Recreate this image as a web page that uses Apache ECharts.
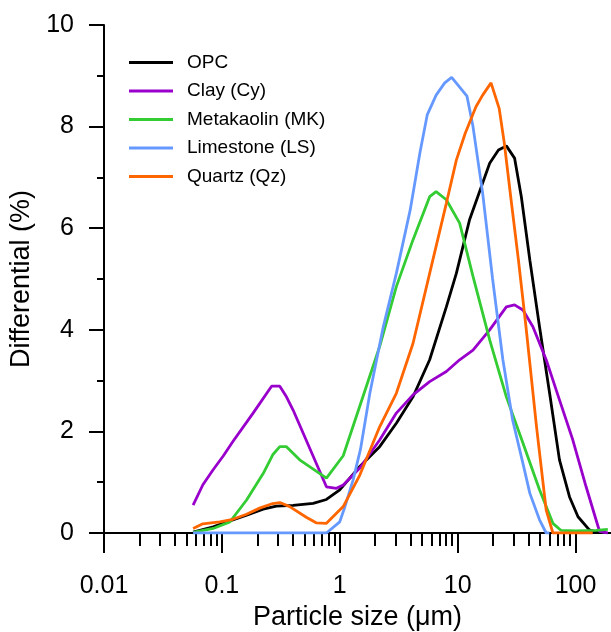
<!DOCTYPE html>
<html>
<head>
<meta charset="utf-8">
<script src="https://cdn.jsdelivr.net/npm/echarts@6/dist/echarts.min.js"></script>
<style>
html,body{margin:0;padding:0;background:#fff;}
#chart{width:611px;height:632px;}
</style>
</head>
<body>
<div id="chart"></div>
<script>
var seriesNames = ['OPC', 'Clay (Cy)', 'Metakaolin (MK)', 'Limestone (LS)', 'Quartz (Qz)'];
var seriesColors = ['#000000', '#9900cc', '#33cc33', '#6699ff', '#ff6600'];
var xTickValues = [0.01, 0.1, 1, 10, 100];
var xTickLabels = ['0.01', '0.1', '1', '10', '100'];

var opcData = [[0.057,0.02],[0.0844,0.12],[0.117,0.24],[0.162,0.35],[0.224,0.47],[0.29,0.53],[0.402,0.545],[0.594,0.585],[0.771,0.66],[1.0,0.85],[1.48,1.31],[2.18,1.70],[3.02,2.16],[4.18,2.68],[5.79,3.41],[8.02,4.45],[9.75,5.11],[12.6,6.16],[18.7,7.28],[22.2,7.54],[25.9,7.62],[30.4,7.38],[34.7,6.62],[41.0,5.37],[49.5,4.06],[60.3,2.75],[73.1,1.44],[89,0.71],[105,0.32],[131,0.06],[160,0]];

var clayData = [[0.057,0.55],[0.069,0.95],[0.084,1.24],[0.103,1.52],[0.124,1.80],[0.184,2.36],[0.264,2.89],[0.31,2.89],[0.353,2.68],[0.402,2.42],[0.771,0.91],[0.937,0.88],[1.07,0.945],[1.48,1.28],[2.18,1.83],[3.02,2.36],[4.18,2.72],[5.79,2.98],[8.02,3.18],[10.4,3.41],[13.5,3.60],[18.7,4.0],[25.9,4.45],[30.4,4.49],[35.8,4.39],[43.5,4.06],[56.4,3.41],[73.1,2.62],[94.9,1.83],[123,0.91],[160,0.03],[188,0]];

var mkData = [[0.057,0.01],[0.0844,0.09],[0.117,0.22],[0.162,0.65],[0.224,1.17],[0.27,1.54],[0.31,1.70],[0.353,1.70],[0.457,1.44],[0.771,1.08],[1.07,1.52],[1.48,2.50],[2.18,3.67],[3.02,4.85],[4.18,5.77],[5.79,6.62],[6.57,6.72],[8.02,6.56],[10.4,6.10],[13.5,5.05],[18.7,3.80],[25.9,2.68],[35.8,1.77],[49.5,0.85],[64.3,0.19],[75.5,0.05],[100,0.04],[150,0.05],[188,0.07]];

var lsData = [[0.057,0],[0.771,0],[1.0,0.22],[1.1,0.5],[1.3,1.05],[1.5,1.65],[1.8,2.75],[2.34,4.06],[3.02,5.11],[3.96,6.36],[4.8,7.5],[5.52,8.23],[6.57,8.62],[7.77,8.86],[8.9,8.97],[12.0,8.60],[13.5,8.0],[16.3,6.69],[19.8,5.0],[24.2,3.41],[29.3,2.22],[35.8,1.37],[41.0,0.78],[49.5,0.26],[56.4,0],[60,0]];

var qzData = [[0.057,0.09],[0.069,0.18],[0.096,0.22],[0.124,0.27],[0.162,0.37],[0.209,0.49],[0.27,0.58],[0.31,0.60],[0.376,0.52],[0.52,0.31],[0.63,0.20],[0.771,0.19],[1.07,0.52],[1.48,1.14],[2.18,2.09],[3.02,2.75],[4.18,3.73],[5.79,5.11],[8.02,6.49],[9.75,7.34],[11.6,7.87],[14.3,8.39],[16.3,8.62],[19.2,8.86],[22.5,8.36],[24.9,7.67],[28.4,6.56],[32.8,5.37],[38.0,4.06],[46.7,2.09],[56.4,0.45],[64.3,0],[140,0]];

var allData = [opcData, clayData, mkData, lsData, qzData];
var FONT = '"Liberation Sans", Arial, sans-serif';

var chart = echarts.init(document.getElementById('chart'), null, {renderer: 'canvas'});
chart.setOption({
  animation: false,
  backgroundColor: '#ffffff',
  grid: {left: 104, right: 0, top: 25, bottom: 99, containLabel: false, outerBoundsMode: 'none'},
  legend: {
    data: seriesNames,
    orient: 'vertical',
    left: 124,
    top: 48,
    itemWidth: 44,
    itemHeight: 3,
    itemGap: 9.5,
    icon: 'rect',
    textStyle: {fontSize: 19, fontFamily: FONT, color: '#000', padding: [0, 0, 0, 9]}
  },
  xAxis: {
    type: 'log',
    logBase: 10,
    min: 0.01,
    max: 200,
    name: 'Particle size (\u03bcm)',
    nameLocation: 'middle',
    nameGap: 70,
    nameTextStyle: {fontSize: 27, fontFamily: FONT, color: '#000'},
    axisLine: {show: true, lineStyle: {color: '#000', width: 2}},
    axisTick: {show: true, inside: false, length: 20, customValues: xTickValues, lineStyle: {color: '#000', width: 2}},
    minorTick: {show: true, splitNumber: 9, length: 13, lineStyle: {color: '#000', width: 2}},
    axisLabel: {
      fontSize: 25, fontFamily: FONT, color: '#000', margin: 41,
      customValues: xTickValues,
      formatter: function (v) {
        var l = Math.log10(v);
        var r = Math.round(l);
        if (Math.abs(l - r) < 1e-6 && r >= -2 && r <= 2) return xTickLabels[r + 2];
        return '';
      }
    },
    splitLine: {show: false},
    minorSplitLine: {show: false}
  },
  yAxis: {
    type: 'value',
    min: 0,
    max: 10,
    interval: 2,
    name: 'Differential (%)',
    nameLocation: 'middle',
    nameGap: 68,
    nameTextStyle: {fontSize: 27, fontFamily: FONT, color: '#000'},
    axisLine: {show: true, lineStyle: {color: '#000', width: 2}},
    axisTick: {show: true, inside: false, length: 15, lineStyle: {color: '#000', width: 2}},
    minorTick: {show: true, splitNumber: 2, length: 7, lineStyle: {color: '#000', width: 2}},
    axisLabel: {fontSize: 25, fontFamily: FONT, color: '#000', margin: 30},
    splitLine: {show: false}
  },
  series: seriesNames.map(function (n, i) {
    return {
      name: n,
      type: 'line',
      data: allData[i],
      symbol: 'none',
      smooth: false,
      color: seriesColors[i],
      lineStyle: {color: seriesColors[i], width: 2.8},
      z: 2 + i
    };
  })
});
</script>
</body>
</html>
